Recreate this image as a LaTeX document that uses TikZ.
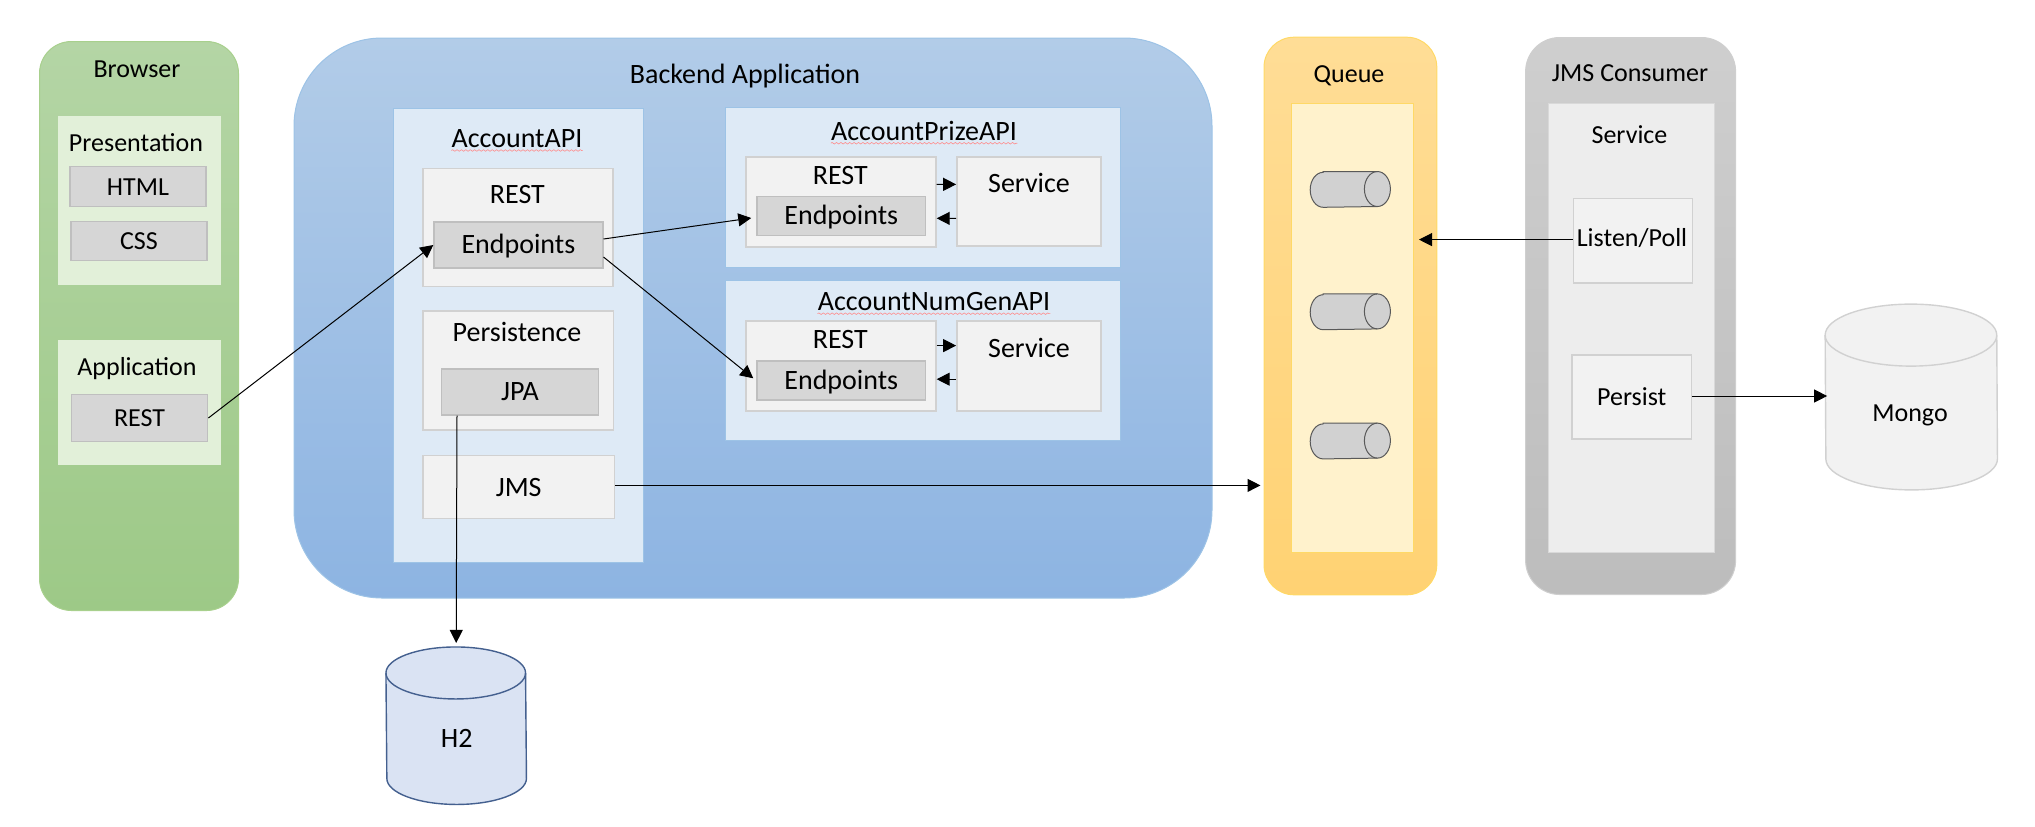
\documentclass[tikz,border=0pt]{standalone}
\usepackage{fontspec}
\setmainfont{Carlito}
\usetikzlibrary{positioning,arrows.meta,decorations.pathmorphing}

\definecolor{paleblue}{HTML}{DEEAF6}
\definecolor{palegreen}{HTML}{E2F0D9}
\definecolor{palegray}{HTML}{F2F2F2}
\definecolor{midgray}{HTML}{D6D6D6}
\definecolor{greentop}{HTML}{B4D5A5}
\definecolor{greenbot}{HTML}{9DC987}
\definecolor{greenline}{HTML}{A8D08D}
\definecolor{bluetop}{HTML}{B2CCE8}
\definecolor{bluebot}{HTML}{8DB4E2}
\definecolor{blueline}{HTML}{9DC3E6}
\definecolor{ambertop}{HTML}{FFDD96}
\definecolor{amberbot}{HTML}{FFD273}
\definecolor{amberline}{HTML}{FFD966}
\definecolor{paleamber}{HTML}{FFF2CC}
\definecolor{dbfill}{HTML}{DAE3F3}
\definecolor{dbline}{HTML}{44608F}

\tikzset{
    wh/.style 2 args={minimum width=#1*.5pt, minimum height=#2*.5pt, inner sep=0pt},
    smalltxt/.style={font=\fontsize{13}{15}\selectfont, inner sep=0pt},
    midtxt/.style={font=\fontsize{14}{16}\selectfont, inner sep=0pt},
    endtxt/.style={midtxt, text depth=1pt},
    column/.style n args={3}{rectangle, top color=#1, bottom color=#2, draw=#3, line width=.5pt},
    panel/.style={rectangle, draw=blueline, fill=paleblue, line width=.5pt},
    greybox/.style={rectangle, fill=palegray, draw=black!18, line width=.7pt},
    darkbox/.style={rectangle, fill=midgray, draw=black!25, line width=.7pt},
    flow/.style={draw=black, line width=.5pt, -{Triangle[length=6.5pt,width=6.5pt]}},
    squiggle/.style={draw=red!45!white, line width=.3pt, decorate, decoration={snake, amplitude=.4pt, segment length=2.2pt}},
    mongoline/.style={fill=palegray, draw=black!18, line width=.7pt},
    h2line/.style={fill=dbfill, draw=dbline, line width=.7pt},
    msgline/.style={fill=black!18, draw=black!65, line width=.5pt},
}

\newcommand{\drum}[4]{
    \draw[#2] ([yshift=-#4]#1.north west) arc[start angle=180, end angle=0, x radius=#3, y radius=#4]
        -- ([yshift=#4]#1.south east) arc[start angle=0, end angle=-180, x radius=#3, y radius=#4] -- cycle;
    \draw[#2, fill=none] ([yshift=-#4]#1.north west) arc[start angle=180, end angle=360, x radius=#3, y radius=#4];
}

\begin{document}
\begin{tikzpicture}[x=.5pt, y=-.5pt]
\useasboundingbox (0,0) rectangle (2035,826);

\node[wh={199}{569}, column={greentop}{greenbot}{greenline}, rounded corners=16pt] (browser) at (139,326) {};
\node[smalltxt] (browserTitle) at (137,69) {Browser};
\node[wh={163}{168.6}, fill=palegreen] (presentation) at (139.5,200.7) {};
\node[smalltxt] (presentationTitle) at (136,142.5) {Presentation};
\node[wh={136}{40}, darkbox, smalltxt] (html) at (138,186.7) {HTML};
\node[wh={136}{39.4}, darkbox, smalltxt] (css) at (139,241) {CSS};
\node[wh={163}{125}, fill=palegreen] (application) at (139.7,402.5) {};
\node[smalltxt] (applicationTitle) at (137,368.5) {Application};
\node[wh={136.4}{47.4}, darkbox, smalltxt] (appRest) at (139.5,418) {REST};

\node[wh={918}{560}, column={bluetop}{bluebot}{blueline}, rounded corners=44pt] (backend) at (753,318) {};
\node[midtxt] (backendTitle) at (745,76.5) {Backend Application};

\node[wh={250}{454}, panel] (acctApi) at (518,335) {};
\node[midtxt] (acctApiTitle) at (517,138.6) {AccountAPI};
\draw[squiggle] ([yshift=-1.5pt]acctApiTitle.base west) -- ([yshift=-1.5pt]acctApiTitle.base east);
\node[wh={190}{118}, greybox] (acctRest) at (518,227.5) {};
\node[midtxt] (acctRestTitle) at (517.4,195) {REST};
\node[wh={168.8}{46}, darkbox, endtxt] (acctEndpoints) at (518.4,245) {Endpoints};
\node[wh={190.6}{119}, greybox] (persistence) at (518.3,370.5) {};
\node[midtxt] (persistenceTitle) at (517,332) {Persistence};
\node[wh={157}{46}, darkbox, midtxt] (jpa) at (520,392) {JPA};
\node[wh={191.4}{63}, greybox, midtxt] (jms) at (518.7,487) {JMS};

\node[wh={394.6}{160}, panel] (prizeApi) at (923,187) {};
\node[midtxt] (prizeApiTitle) at (924,130.7) {AccountPrizeAPI};
\draw[squiggle] ([yshift=-1.5pt]prizeApiTitle.base west) -- ([yshift=-1.5pt]prizeApiTitle.base east);
\node[wh={190}{90}, greybox] (prizeRest) at (841,202) {};
\node[midtxt] (prizeRestTitle) at (840.3,175.7) {REST};
\node[wh={168.7}{39}, darkbox, endtxt] (prizeEndpoints) at (841.3,216) {Endpoints};
\node[wh={144.3}{89}, greybox] (prizeService) at (1029,201.4) {};
\node[midtxt] (prizeServiceTitle) at (1029,183) {Service};

\node[wh={394.6}{160}, panel] (numApi) at (923,360.5) {};
\node[midtxt] (numApiTitle) at (934,301.7) {AccountNumGenAPI};
\draw[squiggle] ([yshift=-1.5pt]numApiTitle.base west) -- ([yshift=-1.5pt]numApiTitle.base east);
\node[wh={190}{90}, greybox] (numRest) at (841,366) {};
\node[midtxt] (numRestTitle) at (840.3,339.7) {REST};
\node[wh={168.7}{39}, darkbox, endtxt] (numEndpoints) at (841.3,380.3) {Endpoints};
\node[wh={144.3}{90}, greybox] (numService) at (1029,366) {};
\node[midtxt] (numServiceTitle) at (1029,347.7) {Service};

\node[wh={172.8}{557.6}, column={ambertop}{amberbot}{amberline}, rounded corners=15pt] (queue) at (1350.4,316) {};
\node[smalltxt] (queueTitle) at (1349,75.5) {Queue};
\node[wh={122}{448.7}, fill=paleamber, draw=amberline, line width=.5pt] (queueInner) at (1352.5,328.3) {};
\foreach \i/\y in {1/189.4, 2/311.8, 3/441} {
    \node[wh={79.4}{35}] (msg\i) at (1350.3,\y) {};
    \draw[msgline] ([xshift=6.5pt]msg\i.north west) -- ([xshift=-6.5pt]msg\i.north east)
        arc[start angle=90, end angle=-90, x radius=6.5pt, y radius=8.75pt]
        -- ([xshift=6.5pt]msg\i.south west) arc[start angle=270, end angle=90, x radius=6.5pt, y radius=8.75pt] -- cycle;
    \draw[msgline, fill=none] ([xshift=-6.5pt]msg\i.north east) arc[start angle=90, end angle=270, x radius=6.5pt, y radius=8.75pt];
}

\node[wh={210}{557}, column={black!19}{black!26}{black!19}, rounded corners=17pt] (consumer) at (1630.6,316) {};
\node[smalltxt] (consumerTitle) at (1630,73.6) {JMS Consumer};
\node[wh={166}{448.7}, fill=black!7, draw=black!15, line width=.5pt] (consumerService) at (1631.6,328.3) {};
\node[smalltxt] (consumerServiceTitle) at (1629.5,134.8) {Service};
\node[wh={119}{84.7}, greybox] (listen) at (1633,240.6) {};
\node[smalltxt] (listenTitle) at (1632,238) {Listen/Poll};
\node[wh={119.6}{84}, greybox, smalltxt] (persist) at (1631.8,397) {Persist};

\node[wh={171.5}{185}] (mongo) at (1911.3,397) {};
\drum{mongo}{mongoline}{42.9pt}{15.5pt}
\node[smalltxt] (mongoTitle) at (1910,415) {Mongo};
\node[wh={139.7}{156.7}] (h2) at (456.2,725.7) {};
\drum{h2}{h2line}{34.9pt}{13pt}
\node[midtxt] (h2Title) at (456.7,738) {H2};

\draw[flow] (appRest.east) -- (acctEndpoints.west);
\draw[flow] ([yshift=3pt]acctEndpoints.east) -- ([xshift=-2.5pt,yshift=-1pt]prizeEndpoints.west);
\draw[flow] ([yshift=-6pt]acctEndpoints.east) -- ([xshift=-1.5pt,yshift=1pt]numEndpoints.west);
\draw[flow] ([yshift=8.85pt]prizeRest.east) -- ([yshift=8.5pt]prizeService.west);
\draw[flow] ([yshift=-8.5pt]prizeService.west) -- ([yshift=-8.15pt]prizeRest.east);
\draw[flow] ([yshift=10.2pt]numRest.east) -- ([yshift=10.2pt]numService.west);
\draw[flow] ([yshift=-6.6pt]numService.west) -- ([yshift=-6.6pt]numRest.east);
\draw[flow] ([xshift=-31.5pt]jpa.south) -- ([yshift=2pt]h2.north);
\draw[flow, shorten >=1.5pt] ([yshift=.8pt]jms.east) -- ([yshift=.8pt]jms.east -| queue.west);
\draw[flow] ([yshift=.5pt]listen.west) -- ([xshift=2.5pt,yshift=.5pt]listen.west -| queueInner.east);
\draw[flow] ([yshift=.5pt]persist.east) -- ([xshift=1pt,yshift=.5pt]persist.east -| mongo.west);

\end{tikzpicture}
\end{document}
